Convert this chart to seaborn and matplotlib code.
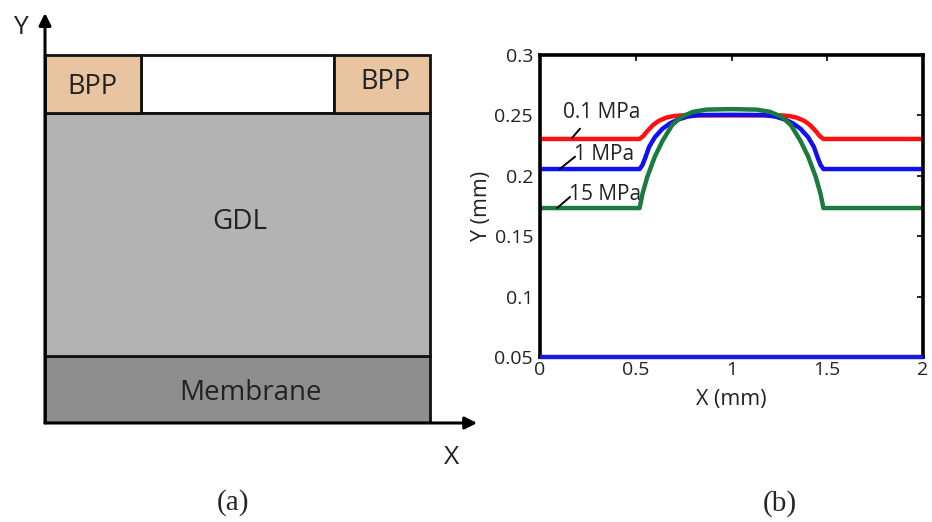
import numpy as np
import pandas as pd
import matplotlib
matplotlib.use("Agg")
import matplotlib.pyplot as plt
import seaborn as sns

# ---------------- data ----------------
# Panel (a): schematic layers (x in mm across the cell, y in schematic units)
layer_names = ["Membrane", "GDL", "BPP", "BPP"]
layer_x0 = [0.0, 0.0, 0.0, 1.5]
layer_x1 = [2.0, 2.0, 0.5, 2.0]
layer_y0 = [0.0, 67.0, 310.0, 310.0]
layer_y1 = [67.0, 310.0, 368.0, 368.0]
layer_colors = ["#8e8e8e", "#b3b3b3", "#e8c4a0", "#e8c4a0"]

# Panel (b): GDL top surface profiles
x_red = [0.0, 0.52, 0.54, 0.56, 0.59, 0.62, 0.66, 0.70, 0.74, 1.00, 1.26, 1.30, 1.34, 1.38, 1.41, 1.44, 1.46, 1.48, 2.0]
y_red = [0.2305, 0.2305, 0.2330, 0.2370, 0.2420, 0.2455, 0.2482, 0.2495, 0.2500, 0.2500, 0.2500, 0.2495, 0.2482, 0.2455, 0.2420, 0.2370, 0.2330, 0.2305, 0.2305]

x_blue = [0.0, 0.52, 0.535, 0.55, 0.57, 0.60, 0.64, 0.68, 0.72, 0.77, 0.83, 1.00, 1.17, 1.23, 1.28, 1.32, 1.36, 1.40, 1.43, 1.45, 1.465, 1.48, 2.0]
y_blue = [0.2056, 0.2056, 0.2090, 0.2150, 0.2240, 0.2320, 0.2390, 0.2435, 0.2465, 0.2490, 0.2503, 0.2505, 0.2503, 0.2490, 0.2465, 0.2435, 0.2390, 0.2320, 0.2240, 0.2150, 0.2090, 0.2056, 0.2056]

x_green = [0.0, 0.52, 0.535, 0.56, 0.60, 0.64, 0.69, 0.74, 0.80, 0.87, 1.00, 1.13, 1.20, 1.26, 1.31, 1.36, 1.40, 1.44, 1.465, 1.48, 2.0]
y_green = [0.1733, 0.1733, 0.1850, 0.1990, 0.2160, 0.2290, 0.2420, 0.2490, 0.2530, 0.2548, 0.2552, 0.2548, 0.2530, 0.2490, 0.2420, 0.2290, 0.2160, 0.1990, 0.1850, 0.1733, 0.1733]

x_membrane = [0.0, 2.0]
y_membrane = [0.05, 0.05]

series_names = ["0.1 MPa", "1 MPa", "15 MPa", "membrane"]
series_colors = ["#ff1010", "#1010f0", "#1b7a3e", "#1a1ad8"]

x_ticks = [0, 0.5, 1, 1.5, 2]
x_tick_labels = ["0", "0.5", "1", "1.5", "2"]
y_ticks = [0.05, 0.1, 0.15, 0.2, 0.25, 0.3]
y_tick_labels = ["0.05", "0.1", "0.15", "0.2", "0.25", "0.3"]

# ---------------- figure ----------------
sns.set_style("white")
plt.rcParams["font.family"] = ["Open Sans", "DejaVu Sans"]

W, H = 932, 522
fig = plt.figure(figsize=(W / 100, H / 100), dpi=100)
TXT = "#222222"

# ----- panel (a) -----
axa = fig.add_axes([45 / W, 1 - 423 / H, 435 / W, 410 / H])
axa.set_xlim(0, 2.0 * 435 / 385)
axa.set_ylim(0, 410)
axa.axis("off")
for name, x0, x1, y0, y1, c in zip(layer_names, layer_x0, layer_x1, layer_y0, layer_y1, layer_colors):
    axa.bar((x0 + x1) / 2, y1 - y0, bottom=y0, width=x1 - x0, color=c,
            edgecolor="#111111", linewidth=2.0, zorder=2)
axa.bar(1.0, 58, bottom=310, width=1.0, color="white", edgecolor="#111111", linewidth=2.0, zorder=1)
axa.text(0.245, 368 - 32, "BPP", ha="center", va="center", fontsize=19.5, color=TXT, zorder=3)
axa.text(1.77, 368 - 27, "BPP", ha="center", va="center", fontsize=19.5, color=TXT, zorder=3)
axa.text(1.01, 423 - 222, "GDL", ha="center", va="center", fontsize=20, color=TXT, zorder=3)
axa.text(1.07, 423 - 393, "Membrane", ha="center", va="center", fontsize=20, color=TXT, zorder=3)
axa.annotate("", xy=(0, 410), xytext=(0, 0),
             arrowprops=dict(arrowstyle="-|>", color="black", lw=2.2, mutation_scale=18,
                             shrinkA=0, shrinkB=0), annotation_clip=False, zorder=5)
axa.annotate("", xy=(2.245, 0), xytext=(0, 0),
             arrowprops=dict(arrowstyle="-|>", color="black", lw=2.2, mutation_scale=18,
                             shrinkA=0, shrinkB=0), annotation_clip=False, zorder=5)
fig.text(20 / W, 1 - 28 / H, "Y", ha="center", va="center", fontsize=19, color=TXT)
fig.text(452 / W, 1 - 458 / H, "X", ha="center", va="center", fontsize=19, color=TXT)
fig.text(233 / W, 1 - 503 / H, "(a)", ha="center", va="center", fontsize=21,
         family=["Liberation Serif", "DejaVu Serif"])

# ----- panel (b) -----
axb = fig.add_axes([540 / W, 1 - 357 / H, 383 / W, 302 / H])
frames = []
for name, xs, ys in zip(series_names, [x_red, x_blue, x_green, x_membrane],
                        [y_red, y_blue, y_green, y_membrane]):
    frames.append(pd.DataFrame({"x": xs, "y": ys, "series": name}))
df = pd.concat(frames, ignore_index=True)
sns.lineplot(data=df, x="x", y="y", hue="series", hue_order=series_names,
             palette=dict(zip(series_names, series_colors)), estimator=None, sort=False,
             linewidth=3.2, legend=False, ax=axb)
for ln in axb.lines:
    ln.set_clip_on(False)
    ln.set_solid_capstyle("butt")
    ln.set_solid_joinstyle("round")
axb.lines[-1].set_zorder(6)
axb.set_xlim(0, 2)
axb.set_ylim(0.05, 0.3)
axb.set_xticks(x_ticks)
axb.set_xticklabels(x_tick_labels)
axb.set_yticks(y_ticks)
axb.set_yticklabels(y_tick_labels)
axb.tick_params(direction="in", length=4, width=1.2, top=True, right=True,
                labelsize=14, colors="black", labelcolor=TXT)
axb.tick_params(axis="y", pad=5)
axb.tick_params(axis="x", pad=3)
for sp in axb.spines.values():
    sp.set_linewidth(2.6)
    sp.set_color("black")
axb.set_xlabel("X (mm)", fontsize=15.5, labelpad=7, color=TXT)
axb.set_ylabel("Y (mm)", fontsize=15.5, labelpad=2, color=TXT)

ann = [("0.1 MPa", (0.118, 0.2525), (0.167, 0.2313), (0.209, 0.2390)),
       ("1 MPa", (0.180, 0.2175), (0.104, 0.2058), (0.183, 0.2158)),
       ("15 MPa", (0.150, 0.1845), (0.089, 0.1733), (0.157, 0.1825))]
for txt, tpos, p0, p1 in ann:
    axb.text(tpos[0], tpos[1], txt, ha="left", va="center", fontsize=15, color=TXT, zorder=7)
    axb.plot([p0[0], p1[0]], [p0[1], p1[1]], color="black", lw=1.4, zorder=7)

fig.text(780 / W, 1 - 504 / H, "(b)", ha="center", va="center", fontsize=21,
         family=["Liberation Serif", "DejaVu Serif"])

fig.savefig("out.png", dpi=100)
